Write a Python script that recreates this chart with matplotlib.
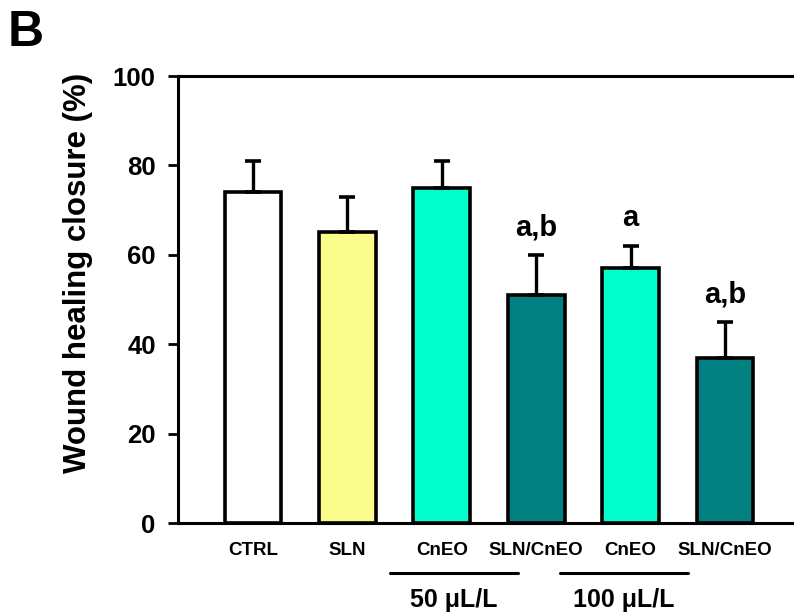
import matplotlib.pyplot as plt
import matplotlib.transforms as mtransforms

plt.rcParams['font.family'] = ['Liberation Sans', 'DejaVu Sans']
plt.rcParams['font.weight'] = 'bold'

# Data
groups = ['CTRL', 'SLN', 'CnEO', 'SLN/CnEO', 'CnEO', 'SLN/CnEO']
closure = [74, 65, 75, 51, 57, 37]
sd = [7, 8, 6, 9, 5, 8]
letters = ['', '', '', 'a,b', 'a', 'a,b']
colors = ['#FFFFFF', '#FAFC8C', '#00FFCC', '#008080', '#00FFCC', '#008080']
dose_labels = ['50 \u03bcL/L', '100 \u03bcL/L']
dose_spans = [(1.45, 2.81), (3.25, 4.61)]

fig = plt.figure(figsize=(7.94, 6.12), dpi=100)
ax = fig.add_axes([0.224, 0.1454, 0.776, 0.7304])

x = list(range(len(groups)))
lower = [0] * len(sd)
ax.bar(x, closure, width=0.6, color=colors, edgecolor='black', linewidth=2.6,
       yerr=[lower, sd], error_kw=dict(ecolor='black', elinewidth=2.4, capsize=6, capthick=2.6),
       zorder=2)
ax.set_ylim(0, 100)
ax.set_xlim(-0.795, 5.73)

# significance letters
for i, lab in enumerate(letters):
    if lab:
        ax.annotate(lab, (i, closure[i] + sd[i]), xytext=(0, 14), textcoords='offset points',
                    ha='center', va='baseline', fontsize=21, fontweight='bold')

ax.set_xticks(x)
ax.set_xticklabels(groups, fontsize=13.5, fontweight='bold')
ax.tick_params(axis='x', length=0, pad=14)
ax.set_yticks(range(0, 101, 20))
ax.tick_params(axis='y', length=7, width=2, labelsize=18.5, pad=9)
for t in ax.get_yticklabels():
    t.set_fontweight('bold')
ax.set_ylabel('Wound healing closure (%)', fontsize=22.5, fontweight='bold')
ax.yaxis.set_label_coords(-0.137, 0.559)

for side in ['top', 'left', 'bottom']:
    ax.spines[side].set_linewidth(2.2)
ax.spines['right'].set_visible(False)

# dose group lines and labels under the axis
trans = mtransforms.blended_transform_factory(ax.transData, ax.transAxes)
for lab, (x0, x1) in zip(dose_labels, dose_spans):
    ax.plot([x0, x1], [-0.112, -0.112], color='black', linewidth=2.2,
            transform=trans, clip_on=False, solid_capstyle='round')
    ax.text((x0 + x1) / 2, -0.188, lab, transform=trans, ha='center', va='baseline',
            fontsize=18, fontweight='bold')

fig.text(0.010, 0.946, 'B', fontsize=36, fontweight='bold', va='center')

fig.savefig('out.png', dpi=100)
